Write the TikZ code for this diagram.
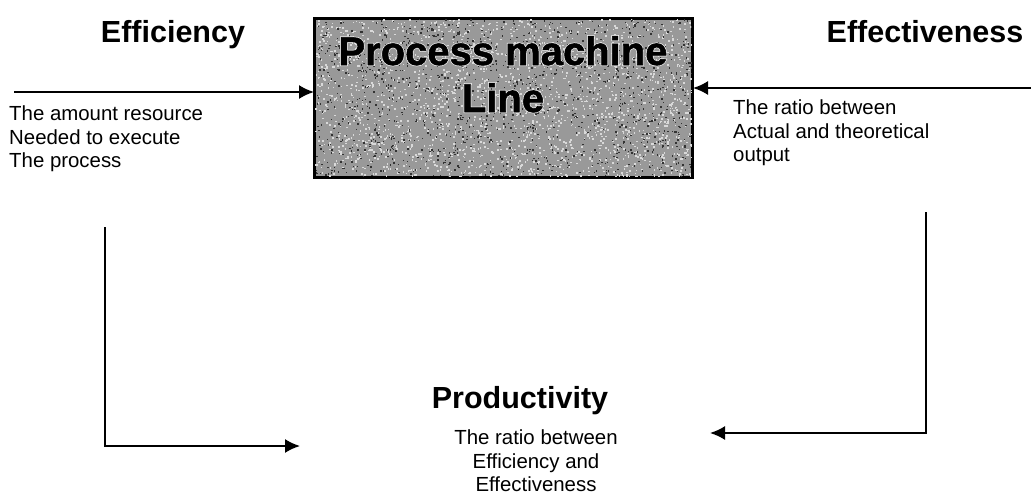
\documentclass[tikz,border=0pt]{standalone}
\usepackage{fontspec}
\setmainfont{Liberation Sans}
\newfontfamily\titlefont[BoldFeatures={FakeBold=1.3}]{Liberation Sans}
\newfontfamily\halofont[BoldFeatures={FakeBold=5}]{Liberation Sans}
\usetikzlibrary{arrows.meta}

\tikzset{
  heading/.style={font=\bfseries\fontsize{30.5}{34}\selectfont, inner sep=0pt, anchor=base},
  bodytext/.style={font=\fontsize{20.4}{23.5}\selectfont, inner sep=0pt},
  titletext/.style={font=\titlefont\bfseries\fontsize{40}{47}\selectfont, inner sep=0pt,
                    align=center, anchor=base},
  titlehalo/.style={font=\halofont\bfseries\fontsize{40}{47}\selectfont, inner sep=0pt,
                    align=center, anchor=base, text=black!8},
  flow/.style={line width=1.8pt, -{Latex[length=15pt,width=14pt]}},
  machine/.style={draw=black, line width=2pt, fill=black!40, inner sep=0pt,
                  minimum width=377pt, minimum height=158pt}
}

\begin{document}
\begin{tikzpicture}[x=1pt,y=-1pt]
\useasboundingbox (0,0) rectangle (1031,495);

% the process machine box with a grainy grey surface
\node[machine] (pm) at (503.5,98) {};
\begin{scope}
  \clip (315,19) rectangle (692,177);
  \pgfmathsetseed{4711}
  \foreach \i in {1,...,2200}{
    \pgfmathsetmacro\rx{315+377*rnd}
    \pgfmathsetmacro\ry{19+158*rnd}
    \fill[white!85!black] (\rx,\ry) rectangle ++(1.6,1.6);
  }
  \foreach \i in {1,...,1300}{
    \pgfmathsetmacro\rx{315+377*rnd}
    \pgfmathsetmacro\ry{19+158*rnd}
    \fill[black!80] (\rx,\ry) rectangle ++(1.4,1.4);
  }
\end{scope}
\draw[line width=2pt] (pm.north west) rectangle (pm.south east);

% title of the box, on a light outline
\node[titlehalo] at (503,112) {Process machine\\Line};
\node[titletext] (pmtitle) at (503,112) {Process machine\\Line};

% headings
\node[heading] (eff) at (173,43) {Efficiency};
\node[heading] (efv) at (925,43) {Effectiveness};
\node[heading] (prod) at (520,408) {Productivity};

% explanations
\node[bodytext, anchor=north west, align=left] (efftxt) at (9,106)
  {The amount resource\\Needed to execute\\The process};
\node[bodytext, anchor=north west, align=left] (efvtxt) at (733,100)
  {The ratio between\\Actual and theoretical\\output};
\node[bodytext, anchor=north, align=center] (prodtxt) at (536,430)
  {The ratio between\\Efficiency and\\Effectiveness};

% connector end points
\coordinate (lin) at (14,92);
\coordinate (rin) at (1031,88);
\coordinate (ltop) at (105,227);
\coordinate (lend) at (300,446);
\coordinate (rtop) at (926,212);
\coordinate (rend) at (710,433);

% connectors
\draw[flow] (lin) -- (lin -| pm.west);
\draw[flow] (rin) -- (rin -| pm.east);
\draw[flow] (ltop) |- (lend);
\draw[flow] (rtop) |- (rend);
\end{tikzpicture}
\end{document}
